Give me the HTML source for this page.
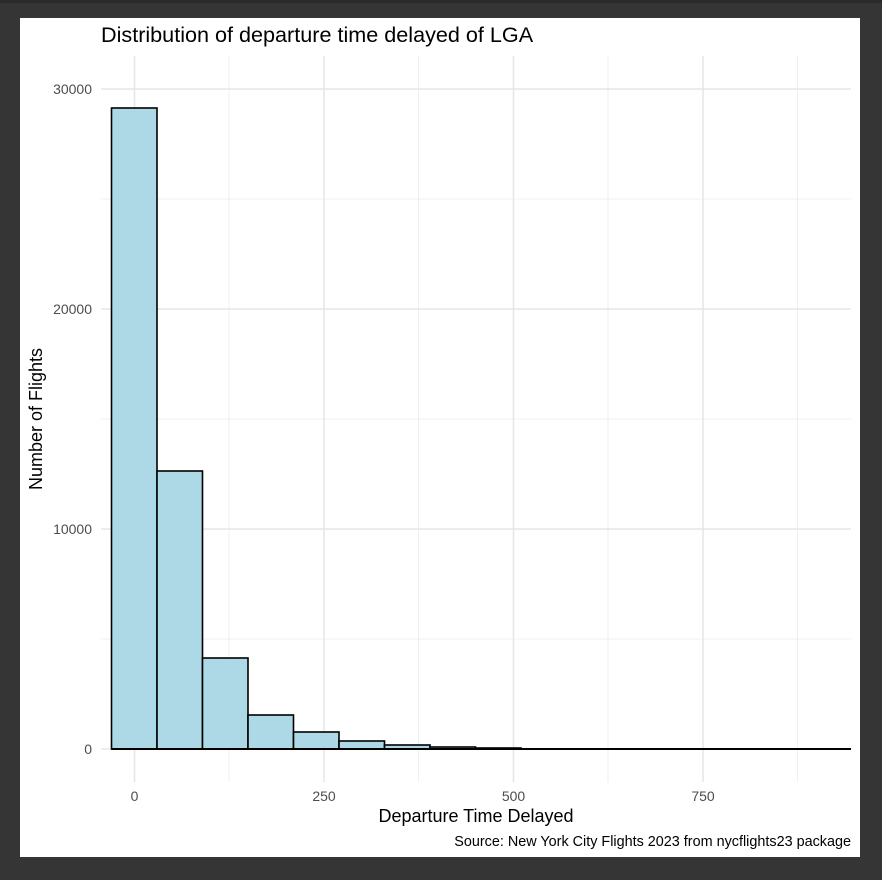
<!DOCTYPE html>
<html><head><style>
html,body{margin:0;padding:0;background:#353535;}
</style></head><body>
<svg width="882" height="880" xmlns="http://www.w3.org/2000/svg" style="display:block;font-family:'Liberation Sans',sans-serif">
<rect x="0" y="0" width="882" height="880" fill="#353535"/>
<rect x="0" y="0" width="882" height="3" fill="#2a2a2a"/>
<rect x="20" y="18" width="840" height="839" fill="#fff"/>
<g stroke="#ebebeb" stroke-width="0.8">
<line x1="101" x2="851" y1="639" y2="639"/><line x1="101" x2="851" y1="419" y2="419"/><line x1="101" x2="851" y1="199" y2="199"/>
<line y1="56" y2="782" x1="229" x2="229"/><line y1="56" y2="782" x1="418.5" x2="418.5"/><line y1="56" y2="782" x1="608" x2="608"/><line y1="56" y2="782" x1="797.5" x2="797.5"/>
</g>
<g stroke="#e6e6e6" stroke-width="1.5">
<line x1="101" x2="851" y1="749" y2="749"/><line x1="101" x2="851" y1="529" y2="529"/><line x1="101" x2="851" y1="309" y2="309"/><line x1="101" x2="851" y1="89" y2="89"/>
<line y1="56" y2="782" x1="134.5" x2="134.5"/><line y1="56" y2="782" x1="324" x2="324"/><line y1="56" y2="782" x1="513.5" x2="513.5"/><line y1="56" y2="782" x1="703" x2="703"/>
</g>
<g fill="#add8e6" stroke="#000" stroke-width="1.6">
<rect x="111.5" y="108" width="45.5" height="641"/>
<rect x="157" y="471" width="45.5" height="278"/>
<rect x="202.5" y="658" width="45.5" height="91"/>
<rect x="248" y="715" width="45.5" height="34"/>
<rect x="293.5" y="732" width="45.5" height="17"/>
<rect x="339" y="741" width="45.5" height="8"/>
<rect x="384.5" y="745" width="45.5" height="4"/>
<rect x="430" y="747" width="45.5" height="2"/>
<rect x="475.5" y="748" width="45.5" height="1"/>
</g>
<line x1="111.5" x2="851" y1="749" y2="749" stroke="#000" stroke-width="2"/>
<g fill="#4d4d4d" font-size="14" text-anchor="end">
<text x="92" y="754">0</text><text x="92" y="534">10000</text><text x="92" y="314">20000</text><text x="92" y="94">30000</text>
</g>
<g fill="#4d4d4d" font-size="14" text-anchor="middle">
<text x="134.5" y="801">0</text><text x="324" y="801">250</text><text x="513.5" y="801">500</text><text x="703" y="801">750</text>
</g>
<text x="101" y="42" font-size="21.6" fill="#000">Distribution of departure time delayed of LGA</text>
<text x="476" y="822" font-size="18" fill="#000" text-anchor="middle">Departure Time Delayed</text>
<text transform="translate(42,419) rotate(-90)" font-size="18" fill="#000" text-anchor="middle">Number of Flights</text>
<text x="851" y="846" font-size="14.4" fill="#000" text-anchor="end">Source: New York City Flights 2023 from nycflights23 package</text>
</svg>
</body></html>
